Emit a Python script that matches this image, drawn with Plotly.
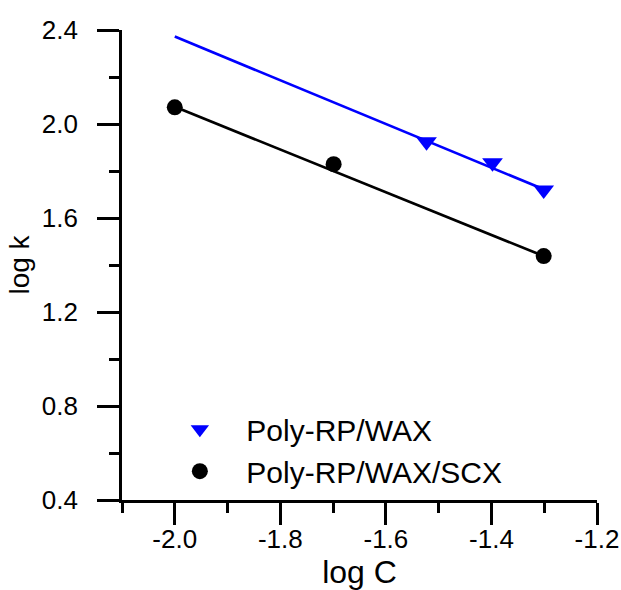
import plotly.graph_objects as go

# Data
wax_logC = [-1.523, -1.398, -1.301]
wax_logk = [1.924, 1.835, 1.719]
scx_logC = [-2.0, -1.699, -1.301]
scx_logk = [2.071, 1.829, 1.438]
wax_fit_logC = [-2.0, -1.301]
wax_fit_logk = [2.372, 1.722]
scx_fit_logC = [-2.0, -1.301]
scx_fit_logk = [2.073, 1.438]
series_names = ["Poly-RP/WAX", "Poly-RP/WAX/SCX"]
x_tickvals = [-2.0, -1.8, -1.6, -1.4, -1.2]
x_ticktext = ["-2.0", "-1.8", "-1.6", "-1.4", "-1.2"]
y_tickvals = [0.4, 0.8, 1.2, 1.6, 2.0, 2.4]
y_ticktext = ["0.4", "0.8", "1.2", "1.6", "2.0", "2.4"]

FONT = "Liberation Sans, Arial, sans-serif"

fig = go.Figure()
fig.add_trace(go.Scatter(x=wax_fit_logC, y=wax_fit_logk, mode="lines",
                         line=dict(color="#0000ff", width=2.7), showlegend=False,
                         hoverinfo="skip"))
fig.add_trace(go.Scatter(x=scx_fit_logC, y=scx_fit_logk, mode="lines",
                         line=dict(color="black", width=2.7), showlegend=False,
                         hoverinfo="skip"))
fig.add_trace(go.Scatter(x=wax_logC, y=wax_logk, mode="markers", name=series_names[0],
                         marker=dict(symbol="triangle-down", size=18, color="#0000ff")))
fig.add_trace(go.Scatter(x=scx_logC, y=scx_logk, mode="markers", name=series_names[1],
                         marker=dict(symbol="circle", size=16, color="black")))

axis_common = dict(
    showline=True, linecolor="black", linewidth=2.7,
    ticks="outside", ticklen=22, tickwidth=2.7, tickcolor="black",
    showgrid=False, zeroline=False, automargin=False,
    tickfont=dict(family=FONT, size=26, color="black"),
)

fig.update_xaxes(
    range=[-2.1, -1.2], tickvals=x_tickvals, ticktext=x_ticktext,
    ticklabelstandoff=-8,
    title=dict(text="log C", font=dict(family=FONT, size=32, color="black"), standoff=12),
    minor=dict(ticks="outside", ticklen=10, tickwidth=2.7, tickcolor="black", dtick=0.1, tick0=-2.1),
    **axis_common,
)
fig.update_yaxes(
    range=[0.4, 2.4], tickvals=y_tickvals, ticktext=y_ticktext,
    ticklabelstandoff=14,
    title=dict(text="log k", font=dict(family=FONT, size=28, color="black"), standoff=4),
    minor=dict(ticks="outside", ticklen=10, tickwidth=2.7, tickcolor="black", dtick=0.2, tick0=0.4),
    **axis_common,
)

fig.update_layout(
    width=621, height=590,
    margin=dict(l=122, r=24, t=30, b=90),
    paper_bgcolor="white", plot_bgcolor="white",
    showlegend=True,
    legend=dict(x=0.066, y=0.206, xanchor="left", yanchor="top",
                font=dict(family=FONT, size=30, color="black"),
                itemwidth=83, bgcolor="rgba(0,0,0,0)", tracegroupgap=0),
    font=dict(family=FONT, color="black"),
)

fig.write_html("out.html")
